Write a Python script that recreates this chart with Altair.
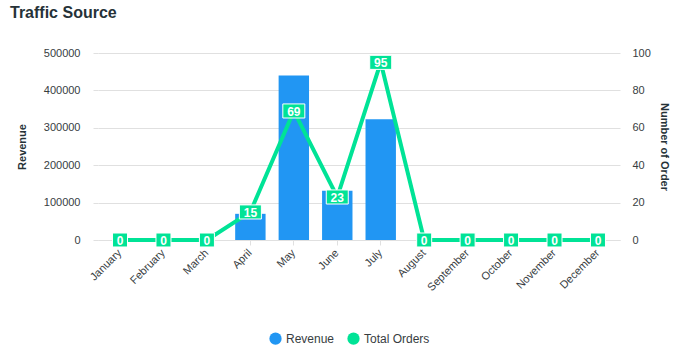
import altair as alt
import pandas as pd

months = ["January", "February", "March", "April", "May", "June", "July",
          "August", "September", "October", "November", "December"]
revenue = [0, 0, 0, 70000, 440000, 132000, 323000, 0, 0, 0, 0, 0]
orders = [0, 0, 0, 15, 69, 23, 95, 0, 0, 0, 0, 0]

df = pd.DataFrame({"month": months, "revenue": revenue, "orders": orders})

FONT = "Liberation Sans"
BLUE = "#2196F3"
GREEN = "#00E396"
LABEL = "#373d3f"
GRID = "#e0e0e0"

x_enc = alt.X("month:N", sort=months, title=None,
              scale=alt.Scale(paddingInner=0.3, paddingOuter=0.157),
              axis=alt.Axis(labelAngle=-45, labelAlign="right", labelBaseline="middle",
                            labelPadding=6, tickSize=5, tickColor=GRID, domainColor=GRID,
                            labelFont=FONT, labelFontSize=11, labelColor=LABEL, grid=False))
x_plain = alt.X("month:N", sort=months, title=None)

bars = alt.Chart(df).mark_bar(color=BLUE).transform_calculate(series="'Revenue'").encode(
    x=x_enc,
    y=alt.Y("revenue:Q", title="Revenue",
            scale=alt.Scale(domain=[0, 500000], nice=False),
            axis=alt.Axis(values=[0, 100000, 200000, 300000, 400000, 500000], format="d",
                          orient="left", domain=False, tickSize=5, tickColor=GRID,
                          gridColor=GRID, labelPadding=13, labelFont=FONT, labelFontSize=11,
                          labelColor=LABEL, titleFont=FONT, titleFontSize=11,
                          titleFontWeight="bold", titleColor="#263238", titleAngle=-90,
                          titleX=-76, titleY=93.5, titleAlign="center",
                          titleBaseline="middle")),
    color=alt.Color("series:N", title=None,
                    scale=alt.Scale(domain=["Revenue", "Total Orders"], range=[BLUE, GREEN]),
                    legend=alt.Legend(orient="none", legendX=171, legendY=279,
                                      direction="horizontal", symbolType="circle",
                                      symbolSize=150, symbolOpacity=1, labelFont=FONT,
                                      labelFontSize=12, labelColor=LABEL,
                                      columnPadding=12, symbolStrokeWidth=0)),
)

y_orders = alt.Y("orders:Q", title="Number of Order",
                 scale=alt.Scale(domain=[0, 100], nice=False),
                 axis=alt.Axis(values=[0, 20, 40, 60, 80, 100], orient="right", domain=False,
                               ticks=False, grid=False, labelPadding=12, labelFont=FONT,
                               labelFontSize=11, labelColor=LABEL, titleFont=FONT,
                               titleFontSize=11, titleFontWeight="bold",
                               titleColor="#263238", titleAngle=90, titleX=43,
                               titleY=93.5, titleAlign="center", titleBaseline="middle"))

base = alt.Chart(df)
line = base.mark_line(color=GREEN, strokeWidth=4).encode(x=x_plain, y=y_orders)

box1 = base.transform_filter("datum.orders < 10").mark_point(
    shape="M-1,-0.93L1,-0.93L1,0.93L-1,0.93Z", filled=True, fill=GREEN, opacity=1,
    stroke="#ffffff", strokeWidth=1, size=225).encode(x=x_plain, y=y_orders)
box2 = base.transform_filter("datum.orders >= 10").mark_point(
    shape="M-1,-0.64L1,-0.64L1,0.64L-1,0.64Z", filled=True, fill=GREEN, opacity=1,
    stroke="#ffffff", strokeWidth=1, size=484).encode(x=x_plain, y=y_orders)
text = base.mark_text(color="white", font=FONT, fontSize=12, fontWeight="bold",
                      baseline="middle", dy=1).encode(
    x=x_plain, y=y_orders, text="orders:Q")

right = alt.layer(line, box1, box2, text)

chart = alt.layer(bars, right).resolve_scale(y="independent").properties(
    width=522, height=187,
    padding={"left": 98, "top": 53, "right": 73, "bottom": 110},
    autosize=alt.AutoSizeParams(type="none"),
    title=alt.TitleParams("Traffic Source", anchor="start", frame="group", dx=-88,
                          font=FONT, fontSize=16, fontWeight="bold", color="#263238",
                          baseline="top", offset=26),
).configure_view(stroke=None)

chart.save("out.html", embed_options={"renderer": "svg", "actions": False})
